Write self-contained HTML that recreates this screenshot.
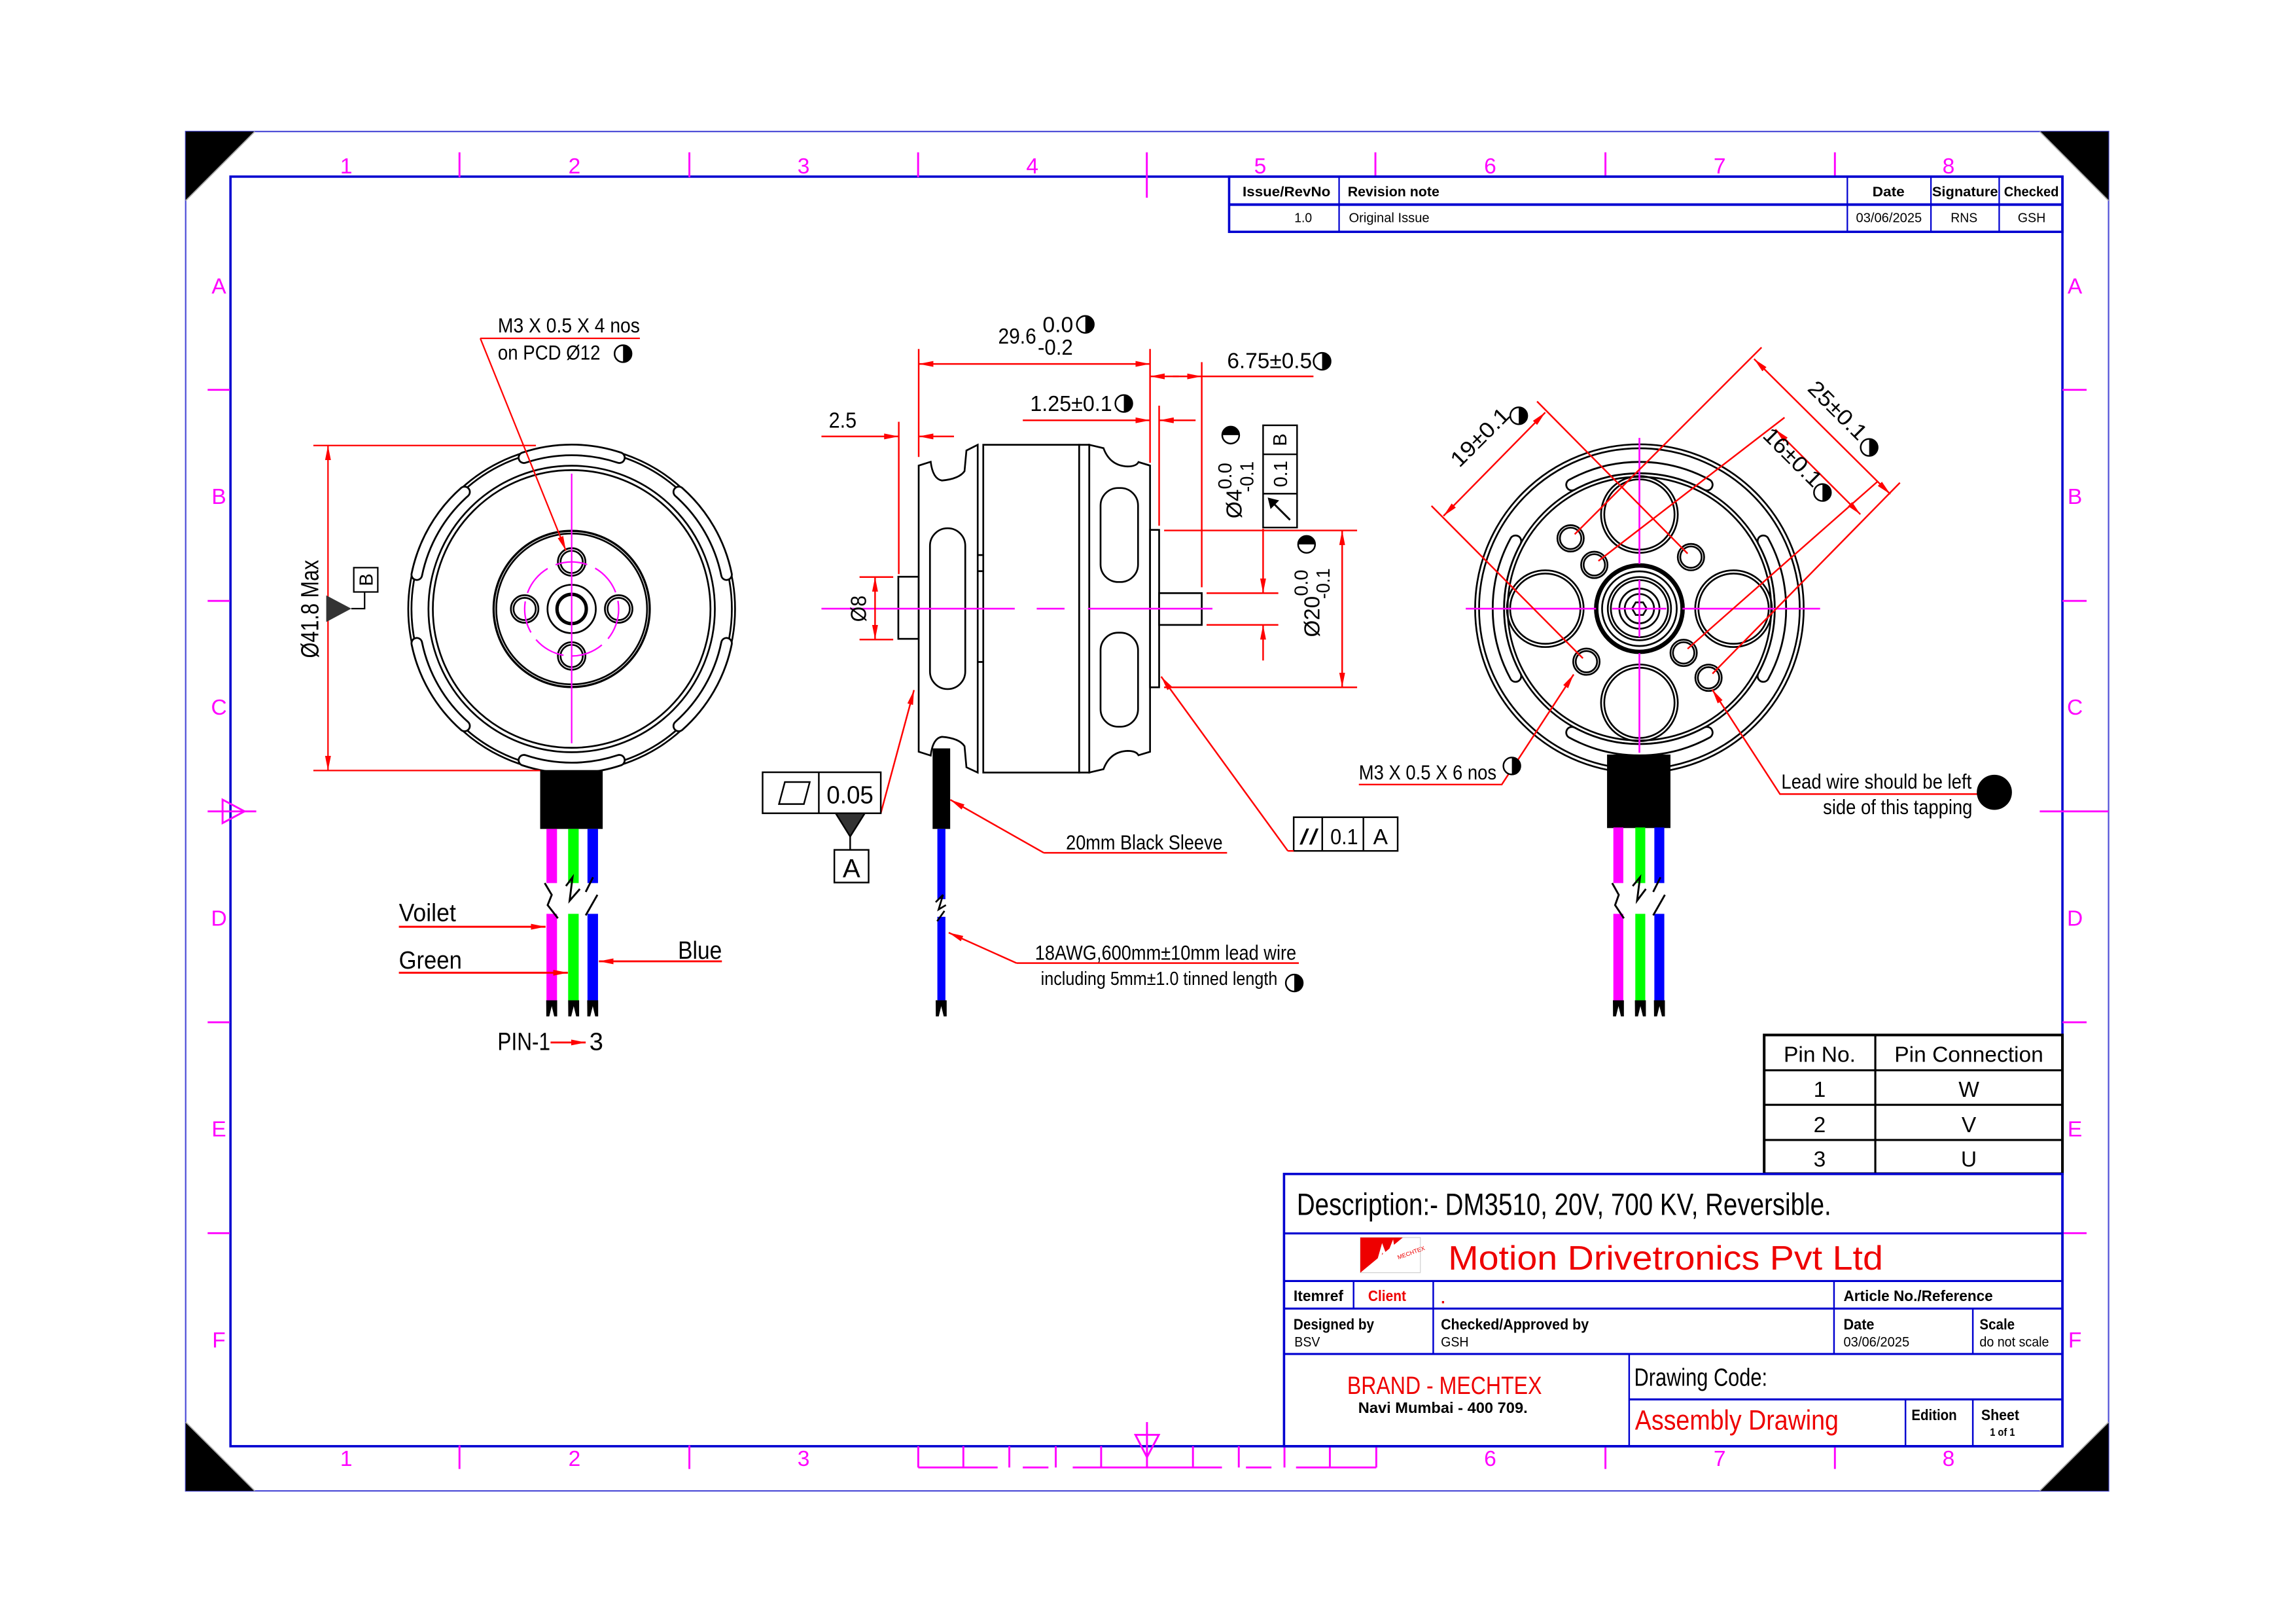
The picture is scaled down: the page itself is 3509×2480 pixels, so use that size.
<!DOCTYPE html>
<html><head><meta charset="utf-8"><style>
html,body{margin:0;padding:0;background:#fff;}
svg{display:block;}
text{font-family:"Liberation Sans",sans-serif;}
</style></head><body>
<svg width="3509" height="2480" viewBox="0 0 1568 1108.2" preserveAspectRatio="none" xmlns="http://www.w3.org/2000/svg">
<defs>
<marker id="ar" viewBox="0 0 10 4" refX="10" refY="2" markerWidth="10" markerHeight="4" markerUnits="userSpaceOnUse" orient="auto-start-reverse"><path d="M0,0 L10,2 L0,4 Z" fill="#f00"/></marker>
<symbol id="hc" viewBox="-7 -7 14 14" overflow="visible"><circle r="5.8" fill="#fff" stroke="#000" stroke-width="1.1"/><path d="M0,-5.8 A5.8,5.8 0 0 1 0,5.8 Z" fill="#000"/></symbol>
</defs>
<rect width="1568" height="1108.2" fill="#fff"/>

<!-- frames -->
<rect x="126.8" y="89.8" width="1313.2" height="928.2" fill="none" stroke="#5050d8" stroke-width="1"/>
<rect x="157.4" y="120.6" width="1251.1" height="866.9" fill="none" stroke="#0000d0" stroke-width="1.6"/>
<path d="M126.8,89.8 L174,89.8 L126.8,137 Z" fill="#000"/>
<path d="M1440,89.8 L1393,89.8 L1440,137 Z" fill="#000"/>
<path d="M126.8,1018 L126.8,971 L174,1018 Z" fill="#000"/>
<path d="M1440,1018 L1440,971 L1393,1018 Z" fill="#000"/>
<g stroke="#aaa" stroke-width="0.8" fill="none">
<path d="M174,89.8 L126.8,137"/><path d="M1393,89.8 L1440,137"/><path d="M126.8,971 L174,1018"/><path d="M1440,971 L1393,1018"/>
</g>

<!-- zone ticks -->
<g stroke="#f0f" stroke-width="1.3" fill="none">
<path d="M313.8,104 V121 M470.8,104 V121 M627,104 V121 M783.2,104 V135 M939.3,104 V121 M1096.4,104 V121 M1253.1,104 V121"/>
<path d="M313.8,987 V1003 M470.8,987 V1003 M1096.4,987 V1003 M1253.1,987 V1003"/>
<path d="M141.8,266.2 H157 M141.8,410.3 H157 M141.8,698 H157 M141.8,842 H157 M141.8,554 H175"/>
<path d="M1408.5,266.2 H1425 M1408.5,410.3 H1425 M1408.5,698 H1425 M1408.5,842 H1425 M1393,554 H1440"/>
<path d="M627.1,987.5 V1002 M657.9,987.5 V1002 M689.3,987.5 V1002 M721,987.5 V1002 M752,987.5 V1002 M783.3,971 V1002 M814.7,987.5 V1002 M846,987.5 V1002 M877.2,987.5 V1002 M908.2,987.5 V1002 M939.9,987.5 V1002"/>
<path d="M627.1,1002 H681.3 M698.5,1002 H716 M732.6,1002 H834.5 M850.9,1002 H868.3 M885.1,1002 H939.9"/>
<path d="M775.4,979.7 H791.4 L783.3,995 Z"/>
<path d="M152,546 V562 L167,554 Z"/>
</g>
<g fill="#f0f" font-size="15" text-anchor="middle">
<text x="236.5" y="118.4">1</text><text x="392.3" y="118.4">2</text><text x="548.8" y="118.4">3</text><text x="705" y="118.4">4</text><text x="860.6" y="118.4">5</text><text x="1017.7" y="118.4">6</text><text x="1174.4" y="118.4">7</text><text x="1330.7" y="118.4">8</text>
<text x="236.5" y="1001">1</text><text x="392.3" y="1001">2</text><text x="548.8" y="1001">3</text><text x="1017.7" y="1001">6</text><text x="1174.4" y="1001">7</text><text x="1330.7" y="1001">8</text>
<text x="149.5" y="200.5">A</text><text x="149.5" y="344">B</text><text x="149.5" y="488">C</text><text x="149.5" y="632">D</text><text x="149.5" y="776">E</text><text x="149.5" y="920">F</text>
<text x="1417" y="200.5">A</text><text x="1417" y="344">B</text><text x="1417" y="488">C</text><text x="1417" y="632">D</text><text x="1417" y="776">E</text><text x="1417" y="920">F</text>
</g>

<!-- revision table -->
<g stroke="#0000d0" fill="none">
<rect x="839.4" y="120.6" width="569.1" height="37.7" stroke-width="1.6"/>
<path d="M839.4,139.7 H1408.5" stroke-width="1.8"/>
<path d="M914.5,120.6 V158.3 M1261.6,120.6 V158.3 M1318.7,120.6 V158.3 M1365.3,120.6 V158.3" stroke-width="1"/>
</g>
<g font-size="9.5" font-weight="bold" fill="#000">
<text x="848.6" y="134" textLength="60" lengthAdjust="spacingAndGlyphs">Issue/RevNo</text>
<text x="920.4" y="134" textLength="62.6" lengthAdjust="spacingAndGlyphs">Revision note</text>
<text x="1278.7" y="134" textLength="22" lengthAdjust="spacingAndGlyphs">Date</text>
<text x="1319.5" y="134" textLength="45" lengthAdjust="spacingAndGlyphs">Signature</text>
<text x="1368.6" y="134" textLength="37.4" lengthAdjust="spacingAndGlyphs">Checked</text>
</g>
<g font-size="9" fill="#000">
<text x="884" y="151.7" textLength="12" lengthAdjust="spacingAndGlyphs">1.0</text>
<text x="921.2" y="151.7" textLength="55" lengthAdjust="spacingAndGlyphs">Original Issue</text>
<text x="1267.5" y="151.7" textLength="45" lengthAdjust="spacingAndGlyphs">03/06/2025</text>
<text x="1332.2" y="151.7" textLength="18.3" lengthAdjust="spacingAndGlyphs">RNS</text>
<text x="1378" y="151.7" textLength="19" lengthAdjust="spacingAndGlyphs">GSH</text>
</g>

<!-- pin table -->
<g stroke="#000" fill="none">
<rect x="1204.8" y="706.7" width="203.7" height="94.7" stroke-width="1.8"/>
<path d="M1204.8,730.8 H1408.5 M1204.8,754.4 H1408.5 M1204.8,778.4 H1408.5 M1280.7,706.7 V801.4" stroke-width="1.4"/>
</g>
<g font-size="15" fill="#000" text-anchor="middle">
<text x="1242.7" y="725">Pin No.</text><text x="1344.6" y="725">Pin Connection</text>
<text x="1242.7" y="749">1</text><text x="1344.6" y="749">W</text>
<text x="1242.7" y="773">2</text><text x="1344.6" y="773">V</text>
<text x="1242.7" y="796.5">3</text><text x="1344.6" y="796.5">U</text>
</g>

<!-- title block -->
<g stroke="#0000d0" fill="none" stroke-width="1.4">
<rect x="876.9" y="801.6" width="531.6" height="185.9" stroke-width="1.6"/>
<path d="M876.9,842.2 H1408.5 M876.9,874.7 H1408.5 M876.9,893.5 H1408.5 M876.9,924.5 H1408.5 M1112.6,955.5 H1408.5"/>
<path d="M924.4,874.7 V893.5 M978.8,874.7 V924.5 M1252.5,874.7 V924.5 M1347.3,893.5 V924.5 M1112.6,924.5 V987.4 M1301.3,955.5 V987.4 M1347.3,955.5 V987.4" stroke-width="1.1"/>
</g>
<text x="885.6" y="829.6" font-size="21" textLength="365" lengthAdjust="spacingAndGlyphs" fill="#000">Description:- DM3510, 20V, 700 KV, Reversible.</text>
<g>
<rect x="929" y="845" width="41" height="24" fill="#fff" stroke="#ccc" stroke-width="0.5"/>
<path d="M929,845 H958 L929,869 Z" fill="#e00"/>
<path d="M940,866 L944,852 L947,860 L951,850 L953,862" stroke="#fff" stroke-width="2" fill="none"/>
<text x="955" y="860" font-size="4" fill="#e00" transform="rotate(-20 955 860)">MECHTEX</text>
</g>
<text x="989" y="867" font-size="23" fill="#e00" textLength="297" lengthAdjust="spacingAndGlyphs">Motion Drivetronics Pvt Ltd</text>
<g font-size="10.5" font-weight="bold" fill="#000">
<text x="883.4" y="888.3" textLength="34" lengthAdjust="spacingAndGlyphs">Itemref</text>
<text x="934.3" y="888.3" textLength="26" lengthAdjust="spacingAndGlyphs" fill="#e00">Client</text>
<text x="984" y="890" fill="#e00">.</text>
<text x="1259" y="888.3" textLength="102" lengthAdjust="spacingAndGlyphs">Article No./Reference</text>
<text x="883.4" y="907.7" textLength="55" lengthAdjust="spacingAndGlyphs">Designed by</text>
<text x="984" y="907.7" textLength="101" lengthAdjust="spacingAndGlyphs">Checked/Approved by</text>
<text x="1259" y="907.7" textLength="21" lengthAdjust="spacingAndGlyphs">Date</text>
<text x="1351.9" y="907.7" textLength="24" lengthAdjust="spacingAndGlyphs">Scale</text>
<text x="1305.4" y="969.7" textLength="31" lengthAdjust="spacingAndGlyphs">Edition</text>
<text x="1353" y="969.7" textLength="26" lengthAdjust="spacingAndGlyphs">Sheet</text>
<text x="1359" y="980.5" font-size="7.5" textLength="17" lengthAdjust="spacingAndGlyphs">1 of 1</text>
<text x="985.4" y="964.8" text-anchor="middle" textLength="115.7" lengthAdjust="spacingAndGlyphs">Navi Mumbai - 400 709.</text>
</g>
<g font-size="9.5" fill="#000">
<text x="884" y="919.4" textLength="17.5" lengthAdjust="spacingAndGlyphs">BSV</text>
<text x="984" y="919.4" textLength="19" lengthAdjust="spacingAndGlyphs">GSH</text>
<text x="1259" y="919.4" textLength="45" lengthAdjust="spacingAndGlyphs">03/06/2025</text>
<text x="1351.9" y="919.4" textLength="47.4" lengthAdjust="spacingAndGlyphs">do not scale</text>
</g>
<text x="986.5" y="951.9" font-size="17" fill="#e00" text-anchor="middle" textLength="133" lengthAdjust="spacingAndGlyphs">BRAND - MECHTEX</text>
<text x="1116" y="946.2" font-size="17" fill="#000" textLength="91" lengthAdjust="spacingAndGlyphs">Drawing Code:</text>
<text x="1116.6" y="976.1" font-size="19" fill="#e00" textLength="139" lengthAdjust="spacingAndGlyphs">Assembly Drawing</text>

<!-- ============ FRONT VIEW ============ -->
<g fill="none" stroke="#000" stroke-width="1.2">
<circle cx="390.4" cy="415.8" r="111.6"/>
<circle cx="390.4" cy="415.8" r="109.4"/>
<circle cx="390.4" cy="415.8" r="97.8"/>
<circle cx="390.4" cy="415.8" r="94.8"/>
</g>
<g fill="none" stroke-linecap="round">
<g id="fslots">
<path d="M357.8,312.5 A103,103 0 0 1 423,312.5" stroke="#000" stroke-width="8.5"/>
<path d="M357.8,312.5 A103,103 0 0 1 423,312.5" stroke="#fff" stroke-width="6"/>
</g>
<use href="#fslots" transform="rotate(60 390.4 415.8)"/>
<use href="#fslots" transform="rotate(120 390.4 415.8)"/>
<use href="#fslots" transform="rotate(180 390.4 415.8)"/>
<use href="#fslots" transform="rotate(240 390.4 415.8)"/>
<use href="#fslots" transform="rotate(300 390.4 415.8)"/>
</g>
<g fill="none" stroke="#000" stroke-width="1.2">
<circle cx="390.4" cy="415.8" r="53.3" stroke-width="1.5"/>
<circle cx="390.4" cy="415.8" r="51.5"/>
<circle cx="390.4" cy="383.7" r="9.4"/><circle cx="390.4" cy="383.7" r="7.6"/>
<circle cx="358.3" cy="415.8" r="9.4"/><circle cx="358.3" cy="415.8" r="7.6"/>
<circle cx="422.5" cy="415.8" r="9.4"/><circle cx="422.5" cy="415.8" r="7.6"/>
<circle cx="390.4" cy="447.9" r="9.4"/><circle cx="390.4" cy="447.9" r="7.6"/>
<circle cx="390.4" cy="415.8" r="16.5"/>
<circle cx="390.4" cy="415.8" r="10" stroke-width="2.3"/>
</g>
<circle cx="390.4" cy="415.8" r="32.1" fill="none" stroke="#f0f" stroke-width="1" stroke-dasharray="22,6"/>
<path d="M390.4,323.4 V507.5" stroke="#f0f" stroke-width="1"/>
<!-- front dims -->
<g stroke="#f00" stroke-width="1" fill="none">
<path d="M214,304.2 H366 M214,526.1 H369"/>
<path d="M224,304.2 V526.1" marker-start="url(#ar)" marker-end="url(#ar)"/>
<path d="M328,231 H437"/>
<path d="M328,231 L386.5,376" marker-end="url(#ar)"/>
</g>
<text transform="translate(217.5 415.8) rotate(-90)" font-size="17" text-anchor="middle" textLength="67" lengthAdjust="spacingAndGlyphs" fill="#000">Ø41.8 Max</text>
<path d="M222.8,406.5 V424.7 L239.9,415.6 Z" fill="#333"/>
<path d="M239.9,415.6 H249 V404.2" stroke="#000" stroke-width="1" fill="none"/>
<rect x="241.6" y="387.6" width="16.4" height="16.6" fill="#fff" stroke="#000" stroke-width="1"/>
<text transform="translate(254.5 395.9) rotate(-90)" font-size="13" text-anchor="middle" fill="#000">B</text>
<text x="340" y="227" font-size="14" textLength="97" lengthAdjust="spacingAndGlyphs" fill="#000">M3 X  0.5 X 4 nos</text>
<text x="340" y="245.5" font-size="14" textLength="70" lengthAdjust="spacingAndGlyphs" fill="#000">on PCD Ø12</text>
<use href="#hc" x="418.5" y="234.5" width="14" height="14"/>
<!-- wires front -->
<rect x="368.9" y="525.8" width="42.7" height="40.2" fill="#000"/>
<g stroke-width="7.2">
<path d="M376.8,566 V603 M376.8,624 V683" stroke="#f0f"/>
<path d="M391.6,566 V603 M391.6,624 V683" stroke="#0f0"/>
<path d="M404.8,566 V603 M404.8,624 V683" stroke="#00f"/>
</g>
<g stroke="#000" stroke-width="1.3" fill="none">
<path d="M372,603 L376.8,611 L374,618 L381,627 M386.5,605 L391,599 L389,615 L396,607 M400,609 L405,599 M400,625 L408,611"/>
</g>
<g fill="#000">
<path d="M373,683 h7.5 v11 h-2 l-1.7,-7 l-1.7,7 h-2 Z"/>
<path d="M388,683 h7.5 v11 h-2 l-1.7,-7 l-1.7,7 h-2 Z"/>
<path d="M401,683 h7.5 v11 h-2 l-1.7,-7 l-1.7,7 h-2 Z"/>
</g>
<g stroke="#f00" stroke-width="1.3" fill="none">
<path d="M272.4,632.8 H372.6" marker-end="url(#ar)"/>
<path d="M272.4,664.2 H387.8" marker-end="url(#ar)"/>
<path d="M493,656.4 H409" marker-end="url(#ar)"/>
<path d="M376,711.8 H400" marker-end="url(#ar)"/>
</g>
<g font-size="17" fill="#000">
<text x="272.4" y="629" textLength="39" lengthAdjust="spacingAndGlyphs">Voilet</text>
<text x="272.4" y="661.4" textLength="43" lengthAdjust="spacingAndGlyphs">Green</text>
<text x="463" y="654.7" textLength="30" lengthAdjust="spacingAndGlyphs">Blue</text>
<text x="339.8" y="716.9" textLength="36" lengthAdjust="spacingAndGlyphs">PIN-1</text>
<text x="402.5" y="716.9">3</text>
</g>

<!-- ============ SIDE VIEW ============ -->
<g fill="#fff" stroke="#000" stroke-width="1.2">
<rect x="613.5" y="393.8" width="13.9" height="42.4"/>
<path d="M627.4,317.9 L635.6,315.3 Q637,327 643.3,328.1 Q655,327 658.7,321.7 L660,307.6 L667.7,303.7 L667.7,527.5 L660,523.9 L658.7,509.5 Q655,504 643.3,503.1 Q637,504 635.6,515.9 L627.4,513.3 Z"/>
<rect x="671.5" y="303.7" width="65.5" height="223.8"/>
<rect x="737" y="303.7" width="6.9" height="223.8"/>
<path d="M743.9,303.7 L753.6,306 Q758,318 770,318.5 Q776,318.5 777.5,315.5 L785.4,317.9 L785.4,513.3 L777.5,515.7 Q776,512.7 770,512.7 Q758,513.2 753.6,525.2 L743.9,527.5 Z"/>
<rect x="785.4" y="361.8" width="6.2" height="107.5"/>
<rect x="791.6" y="405" width="29.1" height="21.7"/>
<rect x="635.1" y="360.7" width="24.1" height="109.8" rx="12"/>
<rect x="751.6" y="333.2" width="25.6" height="64.2" rx="12"/>
<rect x="751.6" y="432" width="25.6" height="64.2" rx="12"/>
<path d="M667.7,379 H671.5 M667.7,390 H671.5 M667.7,452 H671.5" fill="none"/>
</g>
<path d="M561,415.6 H693 M708,415.6 H727 M743,415.6 H828" stroke="#f0f" stroke-width="1.2" fill="none"/>
<!-- side wire -->
<rect x="636.9" y="511" width="12" height="55" fill="#000"/>
<path d="M642.9,566 V614 M642.9,626 V683" stroke="#00f" stroke-width="5.5"/>
<path d="M639,616 L644,611 L641,621 L646,618 M640,629 L645,622" stroke="#000" stroke-width="1.2" fill="none"/>
<path d="M639,683 h7.5 v11 h-2 l-1.7,-7 l-1.7,7 h-2 Z" fill="#000"/>
<!-- side dims -->
<g stroke="#f00" stroke-width="1.1" fill="none">
<path d="M627.4,238.3 V312 M785.4,238.3 V316"/>
<path d="M627.4,248.5 H785.4" marker-start="url(#ar)" marker-end="url(#ar)"/>
<path d="M820.7,247.3 V401"/>
<path d="M785.4,257 H805" marker-start="url(#ar)"/><path d="M801,257 H820.7" marker-end="url(#ar)"/>
<path d="M820.7,257 H897"/>
<path d="M791.6,277 V359"/>
<path d="M698.5,287 H785.4" marker-end="url(#ar)"/><path d="M816.5,287 H791.6" marker-end="url(#ar)"/>
<path d="M613.8,288 V392"/>
<path d="M561,298 H613.8" marker-end="url(#ar)"/><path d="M651.5,298 H627.4" marker-end="url(#ar)"/>
<path d="M587,394 H610 M587,436.7 H610"/>
<path d="M597.6,394 V436.7" marker-start="url(#ar)" marker-end="url(#ar)"/>
<path d="M824,405 H873 M824,426.7 H873"/>
<path d="M862.6,361 V405" marker-end="url(#ar)"/><path d="M862.6,451 V426.7" marker-end="url(#ar)"/>
<path d="M795,362.2 H926.8 M795,469.3 H926.8"/>
<path d="M916.6,362.2 V469.3" marker-start="url(#ar)" marker-end="url(#ar)"/>
<path d="M601.5,555.3 L624.2,471.2" marker-end="url(#ar)"/>
<path d="M712.8,582.3 H838 M712.8,582.3 L649,546.1" marker-end="url(#ar)"/>
<path d="M879.5,581 L793,462" marker-end="url(#ar)"/>
<path d="M694.2,657.6 H887 M694.2,657.6 L647.9,636.8" marker-end="url(#ar)"/>
</g>
<g fill="#000">
<text x="681.7" y="234.5" font-size="15" textLength="26" lengthAdjust="spacingAndGlyphs">29.6</text>
<text x="712" y="226.7" font-size="15" textLength="21" lengthAdjust="spacingAndGlyphs">0.0</text>
<text x="708.7" y="242.2" font-size="15" textLength="24" lengthAdjust="spacingAndGlyphs">-0.2</text>
<text x="838" y="251.3" font-size="15" textLength="58" lengthAdjust="spacingAndGlyphs">6.75±0.5</text>
<text x="703.5" y="280.6" font-size="15" textLength="56" lengthAdjust="spacingAndGlyphs">1.25±0.1</text>
<text x="566" y="292" font-size="15" textLength="19" lengthAdjust="spacingAndGlyphs">2.5</text>
<text transform="translate(591.5 415.6) rotate(-90)" font-size="15" text-anchor="middle" textLength="18" lengthAdjust="spacingAndGlyphs">Ø8</text>
<text transform="translate(848 354) rotate(-90)" font-size="15" textLength="20" lengthAdjust="spacingAndGlyphs">Ø4</text>
<text transform="translate(841 334) rotate(-90)" font-size="13" textLength="18" lengthAdjust="spacingAndGlyphs">0.0</text>
<text transform="translate(856 336) rotate(-90)" font-size="13" textLength="21" lengthAdjust="spacingAndGlyphs">-0.1</text>
<text transform="translate(901 435) rotate(-90)" font-size="15" textLength="28" lengthAdjust="spacingAndGlyphs">Ø20</text>
<text transform="translate(893 407) rotate(-90)" font-size="13" textLength="18" lengthAdjust="spacingAndGlyphs">0.0</text>
<text transform="translate(908 409) rotate(-90)" font-size="13" textLength="21" lengthAdjust="spacingAndGlyphs">-0.1</text>
<text x="728" y="580" font-size="14" textLength="107" lengthAdjust="spacingAndGlyphs">20mm Black Sleeve</text>
<text x="706.8" y="655.4" font-size="14" textLength="178.5" lengthAdjust="spacingAndGlyphs">18AWG,600mm±10mm lead wire</text>
<text x="710.8" y="672.5" font-size="13" textLength="161.6" lengthAdjust="spacingAndGlyphs">including 5mm±1.0 tinned length</text>
</g>
<use href="#hc" x="734.2" y="214.5" width="14" height="14"/>
<use href="#hc" x="895.9" y="239.7" width="14" height="14"/>
<use href="#hc" x="760.5" y="268.5" width="14" height="14"/>
<use href="#hc" x="876.9" y="664.2" width="14" height="14"/>
<g transform="translate(840.5 297.1) rotate(-90)"><circle r="5.8" fill="#fff" stroke="#000" stroke-width="1.1"/><path d="M0,-5.8 A5.8,5.8 0 0 1 0,5.8 Z" fill="#000"/></g>
<g transform="translate(892.3 371.7) rotate(-90)"><circle r="5.8" fill="#fff" stroke="#000" stroke-width="1.1"/><path d="M0,-5.8 A5.8,5.8 0 0 1 0,5.8 Z" fill="#000"/></g>
<!-- GD&T runout box -->
<g stroke="#000" stroke-width="1.1" fill="#fff">
<rect x="862.6" y="290.4" width="23.2" height="69.8"/>
<path d="M862.6,310.2 H885.8 M862.6,337.1 H885.8" fill="none"/>
<path d="M881,355 L868,342" fill="none" stroke-width="1.3"/>
<path d="M866.5,340.5 L872.5,342 L868,346.5 Z" fill="#000"/>
</g>
<text transform="translate(878.5 300.3) rotate(-90)" font-size="13" text-anchor="middle" fill="#000">B</text>
<text transform="translate(879 323.6) rotate(-90)" font-size="13" text-anchor="middle" fill="#000">0.1</text>
<!-- flatness -->
<g stroke="#000" stroke-width="1.1" fill="#fff">
<rect x="520.8" y="527.3" width="80.7" height="28"/>
<path d="M559.2,527.3 V555.3" fill="none"/>
<path d="M532,549 L536,534 L553,534 L549,549 Z" fill="none"/>
<path d="M570.7,555.3 H590.6 L580.6,571.2 Z" fill="#333"/>
<path d="M580.6,571.2 V580.3" fill="none"/>
<rect x="569.8" y="580.3" width="23.4" height="22.3"/>
</g>
<text x="564.5" y="548.5" font-size="17" textLength="32" lengthAdjust="spacingAndGlyphs" fill="#000">0.05</text>
<text x="581.5" y="599" font-size="18" text-anchor="middle" fill="#000">A</text>
<!-- parallel -->
<g stroke="#000" stroke-width="1.1" fill="#fff">
<rect x="883.5" y="558" width="71" height="23"/>
<path d="M903,558 V581 M931.1,558 V581" fill="none"/>
</g>
<text x="887.5" y="576.5" font-size="15" textLength="13" lengthAdjust="spacingAndGlyphs" fill="#000">//</text>
<text x="908.5" y="576.5" font-size="15" textLength="19" lengthAdjust="spacingAndGlyphs" fill="#000">0.1</text>
<text x="942.8" y="576.5" font-size="15" text-anchor="middle" fill="#000">A</text>
<path d="M879.5,581 H883.5" stroke="#f00" stroke-width="1.1"/>

<!-- ============ RIGHT VIEW ============ -->
<g fill="none" stroke="#000" stroke-width="1.2">
<circle cx="1119.6" cy="415.6" r="112.2"/>
<circle cx="1119.6" cy="415.6" r="109.5"/>
<circle cx="1119.6" cy="415.6" r="92.5"/>
<circle cx="1119.6" cy="415.6" r="90"/>
</g>
<g fill="none" stroke-linecap="round">
<g id="rslots">
<path d="M1073.5,331 A96.5,96.5 0 0 1 1165.7,331" stroke="#000" stroke-width="9"/>
<path d="M1073.5,331 A96.5,96.5 0 0 1 1165.7,331" stroke="#fff" stroke-width="6.5"/>
</g>
<use href="#rslots" transform="rotate(90 1119.6 415.6)"/>
<use href="#rslots" transform="rotate(180 1119.6 415.6)"/>
<use href="#rslots" transform="rotate(270 1119.6 415.6)"/>
</g>
<g fill="none" stroke="#000" stroke-width="1.2">
<circle cx="1119.6" cy="351.3" r="26.2"/><circle cx="1119.6" cy="351.3" r="24"/>
<circle cx="1119.6" cy="479.9" r="26.2"/><circle cx="1119.6" cy="479.9" r="24"/>
<circle cx="1055.3" cy="415.6" r="26.2"/><circle cx="1055.3" cy="415.6" r="24"/>
<circle cx="1183.9" cy="415.6" r="26.2"/><circle cx="1183.9" cy="415.6" r="24"/>
<circle cx="1072.6" cy="367.6" r="9"/><circle cx="1072.6" cy="367.6" r="7.3"/>
<circle cx="1088.8" cy="385.7" r="9"/><circle cx="1088.8" cy="385.7" r="7.3"/>
<circle cx="1154.8" cy="380.4" r="9"/><circle cx="1154.8" cy="380.4" r="7.3"/>
<circle cx="1083.4" cy="451.8" r="9"/><circle cx="1083.4" cy="451.8" r="7.3"/>
<circle cx="1149.8" cy="445.8" r="9"/><circle cx="1149.8" cy="445.8" r="7.3"/>
<circle cx="1166.8" cy="462.8" r="9"/><circle cx="1166.8" cy="462.8" r="7.3"/>
<circle cx="1119.6" cy="415.6" r="29.5" stroke-width="3"/>
<circle cx="1119.6" cy="415.6" r="25.5"/>
<circle cx="1119.6" cy="415.6" r="21.6"/>
<circle cx="1119.6" cy="415.6" r="19.5"/>
<circle cx="1119.6" cy="415.6" r="13.7"/>
<circle cx="1119.6" cy="415.6" r="10"/>
<path d="M1114.6,415.6 L1117.1,411.3 L1122.1,411.3 L1124.6,415.6 L1122.1,419.9 L1117.1,419.9 Z"/>
</g>
<path d="M1001,415.6 H1090 M1101,415.6 H1138 M1149,415.6 H1243 M1119.6,299 V385 M1119.6,396 V435 M1119.6,446 V514" stroke="#f0f" stroke-width="1.2" fill="none"/>
<g stroke="#f00" stroke-width="1.1" fill="none">
<path d="M1203,237.2 L1075.4,364.8 M1297.5,329.6 L1169.5,460"/>
<path d="M1197.9,245.1 L1290.9,337.4" marker-start="url(#ar)" marker-end="url(#ar)"/>
<path d="M1218.7,285.1 L1091.6,383 M1282,329 L1152.5,443"/>
<path d="M1212.4,293.2 L1270.5,351.2" marker-start="url(#ar)" marker-end="url(#ar)"/>
<path d="M977.6,345.4 L1081,449.5 M1049.7,274.1 L1152.5,378"/>
<path d="M985.8,352.3 L1055.3,281.6" marker-start="url(#ar)" marker-end="url(#ar)"/>
<path d="M928,535.7 H1025.6 L1074.7,460.5" marker-end="url(#ar)"/>
<path d="M1352,542.2 H1215.6 L1169.3,470.8" marker-end="url(#ar)"/>
</g>
<g fill="#000" font-size="15">
<text transform="translate(1251.4 283.8) rotate(45)" text-anchor="middle" textLength="50" lengthAdjust="spacingAndGlyphs">25±0.1</text>
<text transform="translate(1220.7 315.8) rotate(45)" text-anchor="middle" textLength="50" lengthAdjust="spacingAndGlyphs">16±0.1</text>
<text transform="translate(1014.3 302.1) rotate(-45)" text-anchor="middle" textLength="50" lengthAdjust="spacingAndGlyphs">19±0.1</text>
<text x="928" y="532.3" font-size="14" textLength="94" lengthAdjust="spacingAndGlyphs">M3 X 0.5 X 6 nos</text>
<text x="1216.5" y="538.5" font-size="14" textLength="130" lengthAdjust="spacingAndGlyphs">Lead wire should be left</text>
<text x="1245" y="556" font-size="14" textLength="102" lengthAdjust="spacingAndGlyphs">side of this tapping</text>
</g>
<use href="#hc" x="1269.5" y="298.5" width="14" height="14"/>
<use href="#hc" x="1237.6" y="329.3" width="14" height="14"/>
<use href="#hc" x="1030.2" y="276.9" width="14" height="14"/>
<use href="#hc" x="1025.5" y="516" width="14" height="14"/>
<circle cx="1362" cy="541" r="12" fill="#000"/>
<rect x="1097.5" y="515.2" width="43.3" height="50.2" fill="#000"/>
<g stroke-width="6.8">
<path d="M1105.2,565 V603 M1105.2,624 V683" stroke="#f0f"/>
<path d="M1120.2,565 V603 M1120.2,624 V683" stroke="#0f0"/>
<path d="M1133.2,565 V603 M1133.2,624 V683" stroke="#00f"/>
</g>
<g stroke="#000" stroke-width="1.3" fill="none">
<path d="M1101,603 L1105.5,611 L1103,618 L1109,627 M1115,605 L1120,599 L1118,615 L1124,607 M1129,609 L1134,599 M1129,625 L1137,611"/>
</g>
<g fill="#000">
<path d="M1101.5,683 h7.5 v11 h-2 l-1.7,-7 l-1.7,7 h-2 Z"/>
<path d="M1116.5,683 h7.5 v11 h-2 l-1.7,-7 l-1.7,7 h-2 Z"/>
<path d="M1129.5,683 h7.5 v11 h-2 l-1.7,-7 l-1.7,7 h-2 Z"/>
</g>
</svg>
</body></html>
